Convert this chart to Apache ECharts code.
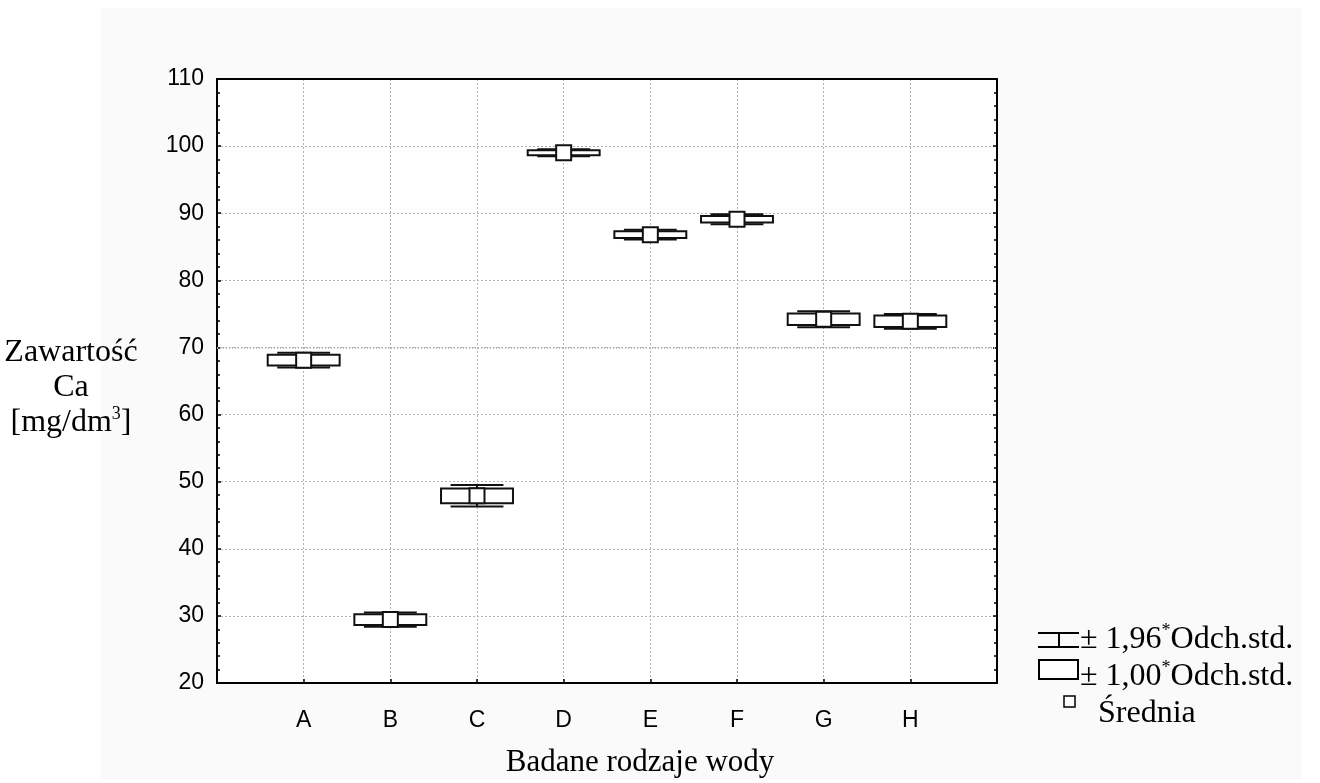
<!DOCTYPE html>
<html>
<head>
<meta charset="utf-8">
<script src="https://cdn.jsdelivr.net/npm/echarts@6/dist/echarts.min.js"></script>
<style>
  html, body { margin: 0; padding: 0; background: #fff; }
  #chart { width: 1320px; height: 783px; }
</style>
</head>
<body>
<div id="chart"></div>
<script>
// Calcium content per water type: mean, ±1.00 SD box, ±1.96 SD whiskers
const categories = ['A', 'B', 'C', 'D', 'E', 'F', 'G', 'H'];
const means      = [68.1, 29.45, 47.9, 99.0, 86.8, 89.1, 74.2, 73.9];
const sdHalf     = [0.80, 0.80, 1.10, 0.37, 0.50, 0.50, 0.85, 0.85];
const whiskerHalf= [1.10, 1.07, 1.60, 0.52, 0.73, 0.73, 1.20, 1.10];
const yTicks     = { min: 20, max: 110, step: 10 };
const referenceLevel = 70;

const serif = '"Liberation Serif", "Times New Roman", serif';
const sans  = '"Liberation Sans", Arial, sans-serif';
const gridDots = { color: '#b4b4b4', width: 1, type: [2, 2] };

const chart = echarts.init(document.getElementById('chart'), null, { renderer: 'canvas' });

const boxData = categories.map((c, i) => [i + 1, means[i], sdHalf[i], whiskerHalf[i]]);

function renderBox(params, api) {
  const x = api.value(0), m = api.value(1), s = api.value(2), w = api.value(3);
  const unit = api.size([1, 0])[0];
  const boxW = unit * 0.83, capW = unit * 0.61;
  const c = api.coord([x, m]);
  const bTop = api.coord([x, m + s])[1], bBot = api.coord([x, m - s])[1];
  const wTop = api.coord([x, m + w])[1], wBot = api.coord([x, m - w])[1];
  const sq = 15;
  const ink = { stroke: '#111', lineWidth: 2, fill: null };
  return {
    type: 'group',
    children: [
      { type: 'line', shape: { x1: c[0], y1: wTop, x2: c[0], y2: wBot }, style: ink },
      { type: 'line', shape: { x1: c[0] - capW / 2, y1: wTop, x2: c[0] + capW / 2, y2: wTop }, style: ink },
      { type: 'line', shape: { x1: c[0] - capW / 2, y1: wBot, x2: c[0] + capW / 2, y2: wBot }, style: ink },
      { type: 'rect', shape: { x: c[0] - boxW / 2, y: bTop, width: boxW, height: bBot - bTop },
        style: { stroke: '#111', lineWidth: 2, fill: '#fff' } },
      { type: 'rect', shape: { x: c[0] - sq / 2, y: c[1] - sq / 2, width: sq, height: sq },
        style: { stroke: '#111', lineWidth: 2, fill: '#fff' } }
    ]
  };
}

const supRich = {
  a: { fontFamily: serif, fontSize: 32, color: '#000', lineHeight: 35 },
  s: { fontFamily: serif, fontSize: 18, color: '#000', lineHeight: 35, verticalAlign: 'top' }
};

const option = {
  backgroundColor: '#fff',
  animation: false,
  grid: { left: 217, right: 323, top: 79, bottom: 89, show: true, backgroundColor: '#fff', borderWidth: 0 },
  xAxis: [{
    type: 'value', min: 0, max: categories.length + 1, interval: 1,
    name: 'Badane rodzaje wody', nameLocation: 'middle', nameGap: 64,
    nameTextStyle: { fontFamily: serif, fontSize: 31, color: '#000', padding: [0, 0, 0, 66] },
    axisLine: { show: true, onZero: false, lineStyle: { color: '#000', width: 2 } },
    axisTick: { show: true, inside: true, length: 4, lineStyle: { color: '#000', width: 1.5 } },
    axisLabel: { margin: 26, fontFamily: sans, fontSize: 23, color: '#000',
      formatter: v => categories[v - 1] || '' },
    splitLine: { show: true, lineStyle: gridDots }
  }, {
    type: 'value', position: 'top', min: 0, max: categories.length + 1, interval: 1,
    axisLine: { show: true, onZero: false, lineStyle: { color: '#000', width: 2 } },
    axisTick: { show: false }, axisLabel: { show: false }, splitLine: { show: false }
  }],
  yAxis: [{
    type: 'value', min: yTicks.min, max: yTicks.max, interval: yTicks.step,
    axisLine: { show: true, onZero: false, lineStyle: { color: '#000', width: 2 } },
    axisTick: { show: true, inside: true, length: 4, lineStyle: { color: '#000', width: 1.5 } },
    minorTick: { show: true, splitNumber: 5, length: 3, lineStyle: { color: '#000', width: 1.5 } },
    axisLabel: { margin: 13, fontFamily: sans, fontSize: 23, color: '#000' },
    splitLine: { show: true, lineStyle: gridDots }
  }, {
    type: 'value', position: 'right', min: yTicks.min, max: yTicks.max, interval: yTicks.step,
    axisLine: { show: true, onZero: false, lineStyle: { color: '#000', width: 2 } },
    axisTick: { show: true, inside: true, length: 4, lineStyle: { color: '#000', width: 1.5 } },
    minorTick: { show: true, splitNumber: 5, length: 3, lineStyle: { color: '#000', width: 1.5 } },
    axisLabel: { show: false }, splitLine: { show: false }
  }],
  graphic: [
    { type: 'rect', z: -10, silent: true, shape: { x: 101, y: 8, width: 1201, height: 772 }, style: { fill: '#fafafa' } },
    // Y axis title
    { type: 'text', x: 71, y: 388, style: {
        text: '{a|Zawartość}\n{a|Ca}\n{a|[mg/dm}{s|3}{a|]}',
        align: 'center', verticalAlign: 'middle', rich: supRich } },
    // Legend: whisker symbol
    { type: 'line', shape: { x1: 1038, y1: 633, x2: 1079, y2: 633 }, style: { stroke: '#000', lineWidth: 2 } },
    { type: 'line', shape: { x1: 1038, y1: 647, x2: 1079, y2: 647 }, style: { stroke: '#000', lineWidth: 2 } },
    { type: 'line', shape: { x1: 1059, y1: 633, x2: 1059, y2: 647 }, style: { stroke: '#000', lineWidth: 2 } },
    { type: 'text', x: 1080, y: 640, style: { text: '{a|± 1,96}{s|*}{a|Odch.std.}', verticalAlign: 'middle', rich: supRich } },
    // Legend: box symbol
    { type: 'rect', shape: { x: 1039, y: 660, width: 39, height: 19 }, style: { stroke: '#000', lineWidth: 2, fill: '#fff' } },
    { type: 'text', x: 1080, y: 677, style: { text: '{a|± 1,00}{s|*}{a|Odch.std.}', verticalAlign: 'middle', rich: supRich } },
    // Legend: mean marker
    { type: 'rect', shape: { x: 1064, y: 696, width: 11, height: 11 }, style: { stroke: '#000', lineWidth: 1.5, fill: '#fff' } },
    { type: 'text', x: 1098, y: 714, style: { text: '{a|Średnia}', verticalAlign: 'middle', rich: supRich } }
  ],
  series: [{
    type: 'custom',
    renderItem: renderBox,
    xAxisIndex: 0, yAxisIndex: 0,
    encode: { x: 0, y: 1 },
    data: boxData,
    z: 5,
    markLine: {
      silent: true, symbol: 'none', label: { show: false },
      lineStyle: { color: '#b8b8b8', width: 2, type: [1, 2] },
      data: [{ yAxis: referenceLevel }]
    }
  }]
};

chart.setOption(option);
</script>
</body>
</html>
